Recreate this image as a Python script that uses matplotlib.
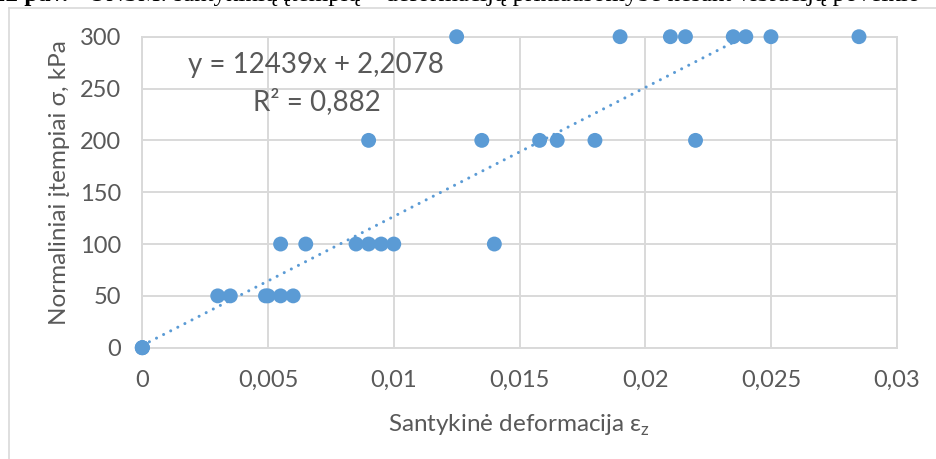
import matplotlib
matplotlib.use("Agg")
import matplotlib.pyplot as plt
import numpy as np

# ---- data ----
x_300 = [0.0125, 0.019, 0.021, 0.0216, 0.0235, 0.024, 0.025, 0.0285]
x_200 = [0.009, 0.0135, 0.0158, 0.0165, 0.018, 0.022]
x_100 = [0.0055, 0.0065, 0.0085, 0.009, 0.0095, 0.01, 0.014]
x_50 = [0.003, 0.0035, 0.0049, 0.005, 0.0055, 0.006]
x_0 = [0.0, 0.0, 0.0]
stress_levels = [300, 200, 100, 50, 0]

trend_slope = 12439
trend_intercept = 2.2078
equation_text = "y = 12439x + 2,2078"
r2_text = "R² = 0,882"

xticks = [0, 0.005, 0.01, 0.015, 0.02, 0.025, 0.03]
xtick_labels = ["0", "0,005", "0,01", "0,015", "0,02", "0,025", "0,03"]
yticks = [0, 50, 100, 150, 200, 250, 300]
ytick_labels = ["0", "50", "100", "150", "200", "250", "300"]

xlabel = "Santykinė deformacija ε$_\\mathregular{z}$"
ylabel = "Normaliniai įtempiai σ, kPa"
caption_bold = "12 pav."
caption_rest = "ONSM: santykinių įtempių – deformacijų priklausomybė nesant vibracijų poveikio"

# ---- style ----
W, H = 936, 459
BLUE = "#5B9BD5"
GRID = "#D9D9D9"
TXT = "#595959"
plt.rcParams["font.family"] = ["Lato", "DejaVu Sans"]

fig = plt.figure(figsize=(W / 100, H / 100), dpi=100)

def fx(px):
    return px / W

def fy(py):
    return 1 - py / H

# chart border (partially visible frame)
fig.add_artist(plt.Line2D([fx(8.5), fx(8.5)], [fy(7.5), fy(H + 5)], color=GRID, lw=1.2,
                          transform=fig.transFigure))
fig.add_artist(plt.Line2D([fx(8.5), fx(W + 5)], [fy(7.5), fy(7.5)], color=GRID, lw=1.2,
                          transform=fig.transFigure))

# caption cut at the top
fig.text(fx(68), fy(1.5), caption_bold, ha="right", va="baseline", fontsize=18,
         fontweight="bold", family="Liberation Serif", color="black")
fig.text(fx(88), fy(1.5), caption_rest, ha="left", va="baseline", fontsize=18,
         family="Liberation Serif", color="black")

left, right, top, bottom = 142.3, 896.7, 36.7, 347.7
ax = fig.add_axes([fx(left), fy(bottom), (right - left) / W, (bottom - top) / H])
ax.set_xlim(0, 0.03)
ax.set_ylim(0, 300)
ax.set_xticks(xticks)
ax.set_xticklabels(xtick_labels)
ax.set_yticks(yticks)
ax.set_yticklabels(ytick_labels)
ax.tick_params(axis="both", length=0, labelsize=17, colors=TXT)
ax.tick_params(axis="x", pad=16)
ax.tick_params(axis="y", pad=15)
ax.grid(True, color=GRID, lw=1.4)
ax.set_axisbelow(True)
for sp in ax.spines.values():
    sp.set_color(GRID)
    sp.set_linewidth(1.4)

groups = [x_300, x_200, x_100, x_50, x_0]
for xs, lvl in zip(groups, stress_levels):
    ax.scatter(xs, [lvl] * len(xs), s=115, color=BLUE, edgecolors="none",
               zorder=3, clip_on=False)

all_x = np.concatenate([np.array(g) for g in groups])
xt = np.linspace(all_x.min(), all_x.max(), 200)
ax.plot(xt, trend_slope * xt + trend_intercept, color=BLUE, lw=2.2,
        linestyle=(0, (0.01, 2.6)), dash_capstyle="round", zorder=2)

fig.text(fx(316), fy(65), equation_text, ha="center", va="center", fontsize=20, color=TXT)
fig.text(fx(317), fy(102), r2_text, ha="center", va="center", fontsize=20, color=TXT)

fig.text(fx(519), fy(425), xlabel, ha="center", va="center", fontsize=17.5, color=TXT)
fig.text(fx(60), fy(183), ylabel, ha="center", va="center", fontsize=17.5, color=TXT,
         rotation=90)

fig.savefig("out.png", dpi=100)
